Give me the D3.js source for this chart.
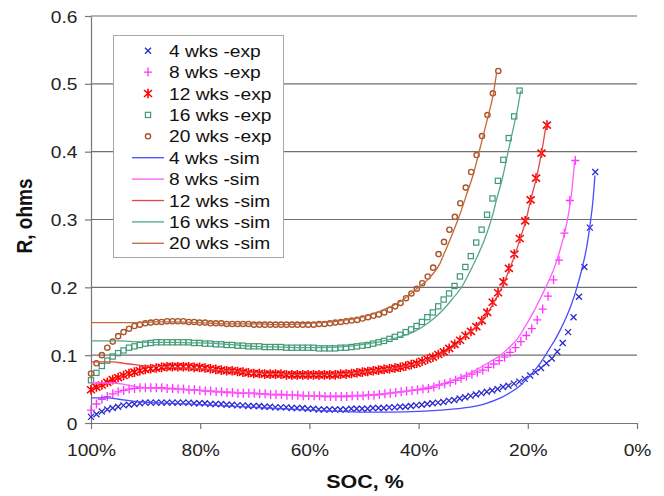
<!DOCTYPE html>
<html><head><meta charset="utf-8">
<script src="https://cdn.jsdelivr.net/npm/d3@7"></script>
<style>html,body{margin:0;padding:0;background:#fff;}svg{display:block;}</style>
</head><body>
<svg id="chart" width="664" height="496"></svg>
<script>
// ---------- DATA ----------
const xTicks = [100, 80, 60, 40, 20, 0];
const yTicks = [0, 0.1, 0.2, 0.3, 0.4, 0.5, 0.6];
const seriesNames = ["4 wks", "8 wks", "12 wks", "16 wks", "20 wks"];

// experimental points, sampled at equal SOC steps from 100% down to the end SOC
const expEndSoc = [7.65, 11.3, 16.5, 21.5, 25.4];
const exp4 = [0.009,0.013,0.017,0.020,0.022,0.024,0.026,0.027,0.028,0.029,
  0.030,0.030,0.030,0.030,0.030,0.030,0.030,0.030,0.030,0.029,
  0.029,0.029,0.028,0.028,0.028,0.027,0.027,0.026,0.026,0.025,
  0.025,0.025,0.024,0.024,0.023,0.023,0.023,0.022,0.022,0.022,
  0.021,0.021,0.020,0.020,0.020,0.020,0.020,0.020,0.021,0.021,
  0.021,0.021,0.022,0.022,0.022,0.023,0.023,0.024,0.024,0.025,
  0.026,0.027,0.028,0.029,0.030,0.031,0.033,0.034,0.036,0.038,
  0.040,0.042,0.044,0.046,0.048,0.050,0.053,0.055,0.058,0.061,
  0.065,0.070,0.075,0.081,0.088,0.095,0.105,0.118,0.134,0.156,
  0.186,0.230,0.288,0.370];
const exp8 = [0.019,0.028,0.035,0.039,0.043,0.046,0.048,0.050,0.051,0.052,
  0.052,0.052,0.052,0.052,0.051,0.051,0.050,0.050,0.049,0.049,
  0.048,0.047,0.047,0.046,0.046,0.045,0.045,0.044,0.044,0.044,
  0.044,0.043,0.043,0.042,0.042,0.042,0.041,0.041,0.041,0.040,
  0.040,0.040,0.040,0.039,0.039,0.039,0.039,0.039,0.040,0.040,
  0.040,0.041,0.041,0.042,0.043,0.044,0.045,0.046,0.047,0.048,
  0.049,0.050,0.051,0.053,0.056,0.058,0.060,0.063,0.066,0.069,
  0.072,0.075,0.078,0.082,0.087,0.092,0.097,0.104,0.111,0.120,
  0.129,0.139,0.152,0.168,0.187,0.211,0.240,0.280,0.328,0.387];
const exp12 = [0.049,0.053,0.056,0.060,0.064,0.067,0.070,0.073,0.075,0.077,
  0.079,0.080,0.081,0.082,0.083,0.083,0.083,0.083,0.083,0.082,
  0.082,0.081,0.080,0.079,0.078,0.077,0.077,0.076,0.075,0.074,
  0.073,0.073,0.072,0.072,0.072,0.072,0.071,0.071,0.071,0.071,
  0.071,0.071,0.071,0.071,0.071,0.071,0.072,0.072,0.073,0.074,
  0.075,0.076,0.077,0.078,0.079,0.080,0.081,0.082,0.084,0.086,
  0.088,0.091,0.094,0.097,0.101,0.105,0.110,0.116,0.122,0.129,
  0.135,0.142,0.151,0.163,0.178,0.192,0.208,0.228,0.249,0.272,
  0.298,0.329,0.361,0.398,0.439];
const exp16 = [0.063,0.074,0.084,0.092,0.098,0.103,0.107,0.111,0.113,0.115,
  0.117,0.118,0.119,0.119,0.119,0.119,0.119,0.119,0.119,0.118,
  0.118,0.117,0.117,0.116,0.116,0.115,0.115,0.114,0.114,0.113,
  0.113,0.113,0.112,0.112,0.112,0.112,0.111,0.111,0.111,0.111,
  0.111,0.111,0.110,0.110,0.110,0.110,0.111,0.111,0.112,0.113,
  0.114,0.115,0.117,0.119,0.121,0.124,0.127,0.130,0.134,0.138,
  0.143,0.149,0.156,0.163,0.172,0.182,0.191,0.202,0.216,0.230,
  0.246,0.266,0.285,0.307,0.331,0.357,0.388,0.420,0.452,0.490];
const exp20 = [0.073,0.088,0.100,0.111,0.120,0.128,0.134,0.139,0.143,0.145,
  0.147,0.148,0.149,0.149,0.150,0.150,0.150,0.150,0.149,0.149,
  0.148,0.148,0.147,0.147,0.147,0.146,0.146,0.146,0.146,0.146,
  0.145,0.145,0.145,0.145,0.145,0.145,0.145,0.145,0.145,0.145,
  0.145,0.145,0.146,0.146,0.147,0.148,0.149,0.150,0.151,0.152,
  0.154,0.156,0.158,0.160,0.163,0.167,0.172,0.177,0.184,0.191,
  0.198,0.206,0.216,0.229,0.249,0.267,0.285,0.304,0.324,0.347,
  0.370,0.395,0.423,0.454,0.486,0.519];

// simulated curves: [SOC %, R ohms]
const sim4 = [[100,0.037],[97,0.037],[95,0.035],[93,0.033],[91,0.031],[89,0.030],[85,0.029],[80,0.027],[75,0.025],[70,0.023],[65,0.021],[60,0.019],[55,0.017],[50,0.016],[45,0.016],[40,0.017],[36,0.019],[32,0.022],[28,0.028],[25,0.037],[23,0.046],[21,0.058],[19.5,0.071],[18,0.085],[17,0.097],[16,0.110],[15,0.123],[14,0.138],[13,0.155],[12,0.175],[11,0.200],[10,0.230],[9.2,0.260],[8.6,0.292],[8.1,0.325],[7.7,0.365]];
const sim8 = [[100,0.059],[96,0.059],[94,0.057],[92,0.054],[90,0.052],[85,0.050],[80,0.048],[75,0.046],[70,0.043],[65,0.041],[60,0.040],[55,0.040],[50,0.041],[45,0.044],[40,0.050],[36,0.057],[33,0.065],[30,0.076],[27,0.090],[25,0.100],[23.6,0.110],[22,0.123],[20.5,0.142],[19,0.163],[17.5,0.187],[16.3,0.207],[15,0.232],[14.1,0.255],[13.2,0.282],[12.5,0.310],[11.9,0.345],[11.4,0.388]];
const sim12 = [[100,0.090],[96,0.090],[94,0.088],[92,0.086],[90,0.084],[87,0.083],[85,0.082],[80,0.080],[75,0.077],[70,0.074],[65,0.072],[60,0.071],[55,0.072],[50,0.075],[45,0.080],[40,0.088],[37,0.097],[35,0.105],[33,0.116],[31,0.131],[29,0.146],[27,0.167],[25.4,0.190],[24.3,0.208],[23.4,0.226],[22.3,0.249],[21.4,0.272],[20.3,0.300],[19.5,0.328],[18.4,0.362],[17.5,0.398],[16.5,0.447]];
const sim16 = [[100,0.121],[95,0.121],[92,0.120],[89,0.119],[85,0.119],[80,0.118],[75,0.116],[70,0.113],[65,0.112],[60,0.111],[55,0.112],[50,0.116],[47,0.120],[44,0.126],[41,0.134],[38,0.149],[36,0.163],[34,0.181],[32,0.202],[30.3,0.228],[29.1,0.248],[27.8,0.273],[26.6,0.302],[25.7,0.330],[24.5,0.366],[23.6,0.400],[22.5,0.440],[21.9,0.462],[21.3,0.490]];
const sim20 = [[100,0.148],[95,0.148],[92,0.148],[88,0.149],[85,0.149],[80,0.148],[75,0.146],[70,0.146],[65,0.145],[60,0.147],[55,0.150],[50,0.157],[47,0.165],[44,0.176],[42,0.187],[40,0.200],[38,0.214],[36.1,0.235],[35.2,0.252],[34,0.275],[32.6,0.304],[31,0.342],[30,0.366],[28.9,0.400],[27.5,0.445],[26.3,0.486],[25.7,0.517]];

// ---------- STYLE ----------
const expSeries = [exp4, exp8, exp12, exp16, exp20];
const simSeries = [sim4, sim8, sim12, sim16, sim20];
const expColors = ["#2a2acc", "#ff33ff", "#ff0000", "#3f9a74", "#a8552b"];
const simColors = ["#4b4bff", "#ff5cff", "#e04848", "#55a88a", "#c4673c"];
const markerTypes = ["x", "plus", "star", "square", "circle"];
const SX = 1.13;           // horizontal stretch of glyphs
const FONT = "'Liberation Sans', Arial, Helvetica, sans-serif";

const svg = d3.select("#chart");
const x = d3.scaleLinear().domain([100, 0]).range([91, 637]);
const y = d3.scaleLinear().domain([0, 0.6]).range([423, 16]);

// gridlines
svg.append("g").selectAll("line").data(yTicks.filter(d => d > 0)).join("line")
  .attr("x1", x(100)).attr("x2", x(0)).attr("y1", d => y(d)).attr("y2", d => y(d))
  .attr("stroke", "#6f6f6f").attr("stroke-width", 1.2);

// axes
const axisColor = "#777";
const gx = svg.append("g").attr("transform", `translate(0,${y(0)})`)
  .call(d3.axisBottom(x).tickValues(xTicks).tickFormat(d => d + "%").tickSize(6).tickSizeOuter(0));
gx.select(".domain").attr("stroke", axisColor).attr("stroke-width", 1.2);
gx.selectAll(".tick line").attr("stroke", axisColor).attr("stroke-width", 1.2);
gx.selectAll(".tick text").attr("font-family", FONT).attr("font-size", 17).attr("fill", "#222")
  .attr("y", 21).attr("dy", "0.71em").attr("transform", `scale(${SX},1)`);

const gy = svg.append("g").attr("transform", `translate(${x(100)},0)`)
  .call(d3.axisLeft(y).tickValues(yTicks).tickFormat(d => d === 0 ? "0" : d3.format(".1f")(d)).tickSize(6).tickSizeOuter(0));
gy.select(".domain").attr("stroke", axisColor).attr("stroke-width", 1.2);
gy.selectAll(".tick line").attr("stroke", axisColor).attr("stroke-width", 1.2);
gy.selectAll(".tick text").attr("font-family", FONT).attr("font-size", 17).attr("fill", "#222")
  .attr("x", -13.5 / SX).attr("dy", "0.36em").attr("transform", `scale(${SX},1)`);

// marker drawing
function drawMarker(sel, type, color) {
  if (type === "x") {
    sel.append("path").attr("d", "M-3,-3L3,3M-3,3L3,-3").attr("stroke", color).attr("stroke-width", 1.3).attr("fill", "none");
  } else if (type === "plus") {
    sel.append("path").attr("d", "M-4,0L4,0M0,-4.5L0,4.5").attr("stroke", color).attr("stroke-width", 1.3).attr("fill", "none");
  } else if (type === "star") {
    sel.append("path").attr("d", "M-4,-3.5L4,3.5M-4,3.5L4,-3.5M0,-4.8L0,4.8").attr("stroke", color).attr("stroke-width", 1.6).attr("fill", "none");
  } else if (type === "square") {
    sel.append("rect").attr("x", -2.6).attr("y", -2.6).attr("width", 5.2).attr("height", 5.2).attr("stroke", color).attr("stroke-width", 1.2).attr("fill", "none");
  } else {
    sel.append("circle").attr("r", 2.6).attr("stroke", color).attr("stroke-width", 1.4).attr("fill", "none");
  }
}

// experimental markers
expSeries.forEach((vals, i) => {
  const n = vals.length;
  const step = (100 - expEndSoc[i]) / (n - 1);
  const pts = vals.map((r, k) => ({ soc: 100 - k * step, r }));
  const g = svg.append("g");
  g.selectAll("g").data(pts).join("g")
    .attr("transform", d => `translate(${x(d.soc)},${y(d.r)})`)
    .each(function () { drawMarker(d3.select(this), markerTypes[i], expColors[i]); });
});

// simulated lines
const line = d3.line().x(d => x(d[0])).y(d => y(d[1])).curve(d3.curveMonotoneX);
simSeries.forEach((pts, i) => {
  svg.append("path").datum(pts).attr("d", line).attr("fill", "none")
    .attr("stroke", simColors[i]).attr("stroke-width", 1.3);
});

// legend
const lg = svg.append("g");
lg.append("rect").attr("x", 113.5).attr("y", 35.5).attr("width", 170).attr("height", 222)
  .attr("fill", "#fff").attr("stroke", "#a8a8a8").attr("stroke-width", 1);
const legendItems = [];
seriesNames.forEach((s, i) => legendItems.push({ label: s + " -exp", kind: "exp", i }));
seriesNames.forEach((s, i) => legendItems.push({ label: s + " -sim", kind: "sim", i }));
legendItems.forEach((it, j) => {
  const cy = 50.7 + j * 21.4;
  if (it.kind === "exp") {
    const m = lg.append("g").attr("transform", `translate(148,${cy})`);
    drawMarker(m, markerTypes[it.i], expColors[it.i]);
  } else {
    lg.append("line").attr("x1", 132).attr("x2", 164).attr("y1", cy).attr("y2", cy)
      .attr("stroke", simColors[it.i]).attr("stroke-width", 1.3);
  }
  lg.append("text").attr("transform", `translate(169,${cy}) scale(${SX},1)`)
    .attr("dy", "0.36em").attr("font-family", FONT).attr("font-size", 17).attr("fill", "#111")
    .text(it.label);
});

// axis titles
svg.append("text").attr("transform", `translate(365,488) scale(${SX},1)`)
  .attr("text-anchor", "middle").attr("font-family", FONT).attr("font-size", 19).attr("font-weight", "bold")
  .attr("fill", "#111").text("SOC, %");
svg.append("text").attr("transform", `translate(32,216) rotate(-90) scale(1,${SX})`)
  .attr("text-anchor", "middle").attr("font-family", FONT).attr("font-size", 19).attr("font-weight", "bold")
  .attr("fill", "#111").text("R, ohms");
</script>
</body></html>
